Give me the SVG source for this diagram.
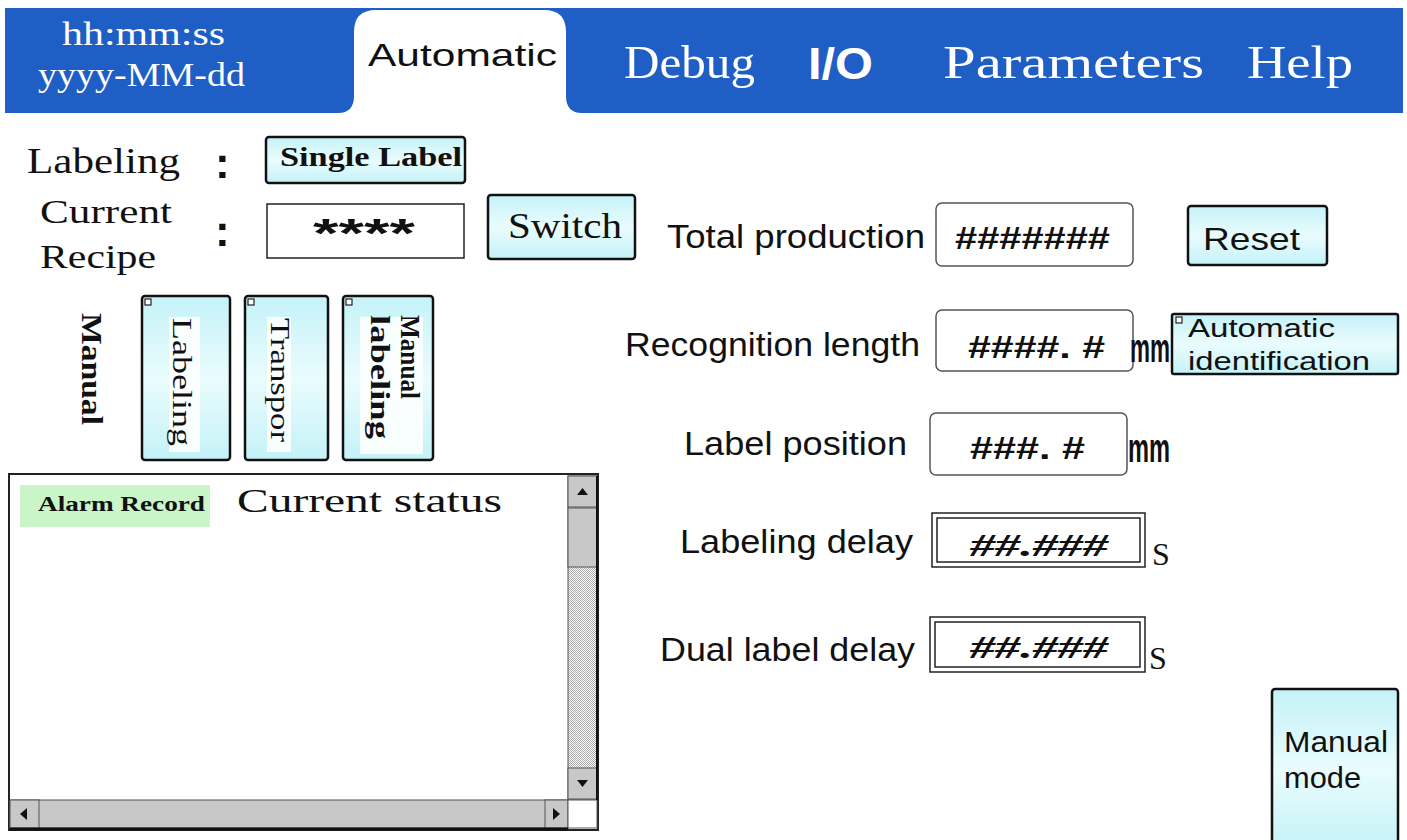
<svg xmlns="http://www.w3.org/2000/svg" width="1407" height="840" viewBox="0 0 1407 840">
<defs>
<linearGradient id="btn" x1="0" y1="0" x2="0" y2="1">
<stop offset="0" stop-color="#c4f2f8"/>
<stop offset="0.5" stop-color="#eafcfd"/>
<stop offset="1" stop-color="#c4f2f8"/>
</linearGradient>
<pattern id="dots" width="2" height="2" patternUnits="userSpaceOnUse">
<rect width="2" height="2" fill="#ffffff"/>
<rect width="1" height="1" fill="#a8a8a8"/>
<rect x="1" y="1" width="1" height="1" fill="#a8a8a8"/>
</pattern>
<style>
.mono{font-family:"Liberation Serif","DejaVu Serif",serif;}
.sans{font-family:"Liberation Sans",Arial,sans-serif;}
.serif{font-family:"Liberation Serif","Times New Roman",serif;}
.w{fill:#ffffff;}
.k{fill:#111111;}
.btn{fill:url(#btn);stroke:#111;stroke-width:2.5;}
.field{fill:#ffffff;stroke:#555;stroke-width:1.5;}
.mark{fill:#fff;stroke:#222;stroke-width:1.2;}
.sb{fill:#c8c8c8;stroke:#555;stroke-width:1;}
</style>
</defs>
<rect width="1407" height="840" fill="#ffffff"/>

<g id="topbar">
<rect x="5" y="8" width="1398" height="105" fill="#1f5ec5"/>
<path d="M338,113 Q354,113 354,96 L354,32 Q354,10 376,10 L544,10 Q566,10 566,32 L566,96 Q566,113 582,113 Z" fill="#ffffff"/>
<text class="mono w" x="62" y="45" font-size="34" textLength="163" lengthAdjust="spacingAndGlyphs">hh:mm:ss</text>
<text class="mono w" x="38" y="86" font-size="34" textLength="207" lengthAdjust="spacingAndGlyphs">yyyy-MM-dd</text>
<text class="sans k" x="368" y="66" font-size="32" textLength="189" lengthAdjust="spacingAndGlyphs">Automatic</text>
<text class="mono w" x="624" y="78" font-size="47" textLength="131" lengthAdjust="spacingAndGlyphs">Debug</text>
<text class="sans w" x="808" y="79" font-size="44" font-weight="bold" textLength="65" lengthAdjust="spacingAndGlyphs">I/O</text>
<text class="mono w" x="943" y="78" font-size="47" textLength="261" lengthAdjust="spacingAndGlyphs">Parameters</text>
<text class="mono w" x="1247" y="78" font-size="47" textLength="106" lengthAdjust="spacingAndGlyphs">Help</text>
</g>

<g id="labeling-row">
<text class="mono k" x="27" y="173" font-size="35" textLength="153" lengthAdjust="spacingAndGlyphs">Labeling</text>
<text class="sans k" x="215" y="178" font-size="44" font-weight="bold">:</text>
<rect class="btn" x="266" y="137" width="199" height="46" rx="3"/>
<text class="mono k" x="280" y="166" font-size="27" font-weight="bold" textLength="182" lengthAdjust="spacingAndGlyphs">Single Label</text>
</g>

<g id="recipe-row">
<text class="mono k" x="40" y="223" font-size="33" textLength="132" lengthAdjust="spacingAndGlyphs">Current</text>
<text class="mono k" x="40" y="268" font-size="33" textLength="116" lengthAdjust="spacingAndGlyphs">Recipe</text>
<text class="sans k" x="215" y="246" font-size="44" font-weight="bold">:</text>
<rect x="267" y="204" width="197" height="54" fill="#fff" stroke="#222" stroke-width="1.5"/>
<text class="sans k" x="313" y="247" font-size="40" font-weight="bold" textLength="102" lengthAdjust="spacingAndGlyphs">****</text>
<rect class="btn" x="488" y="195" width="147" height="64" rx="3"/>
<text class="mono k" x="508" y="238" font-size="35" textLength="114" lengthAdjust="spacingAndGlyphs">Switch</text>
</g>

<g id="manual-group">
<text class="mono k" transform="translate(92,313) rotate(90)" x="0" y="10" font-size="30" font-weight="bold" textLength="112" lengthAdjust="spacingAndGlyphs">Manual</text>
</g>
<g id="btn-labeling">
<rect class="btn" x="142" y="296" width="88" height="164" rx="3"/>
<rect x="169" y="317" width="31" height="135" fill="#ffffff" opacity="0.85"/>
<rect class="mark" x="145" y="299" width="6" height="6"/>
<text class="mono k" transform="translate(182,318) rotate(90)" x="0" y="9" font-size="27" textLength="128" lengthAdjust="spacingAndGlyphs">Labeling</text>
</g>
<g id="btn-transport">
<rect class="btn" x="245" y="296" width="83" height="164" rx="3"/>
<rect x="267" y="317" width="24" height="135" fill="#ffffff" opacity="0.85"/>
<rect class="mark" x="248" y="299" width="6" height="6"/>
<text class="mono k" transform="translate(280,318) rotate(90)" x="0" y="9" font-size="27" textLength="124" lengthAdjust="spacingAndGlyphs">Transpor</text>
</g>
<g id="btn-manual-labeling">
<rect class="btn" x="343" y="296" width="90" height="164" rx="3"/>
<rect x="360" y="317" width="63" height="137" fill="#ffffff" opacity="0.85"/>
<rect class="mark" x="346" y="299" width="6" height="6"/>
<text class="mono k" transform="translate(410,315) rotate(90)" x="0" y="9" font-size="27" font-weight="bold" textLength="84" lengthAdjust="spacingAndGlyphs">Manual</text>
<text class="mono k" transform="translate(380,315) rotate(90)" x="0" y="9" font-size="27" font-weight="bold" textLength="124" lengthAdjust="spacingAndGlyphs">labeling</text>
</g>

<g id="alarm-panel">
<rect x="9" y="474" width="589" height="356" fill="#ffffff" stroke="#222" stroke-width="2"/>
<rect x="20" y="485" width="190" height="42" fill="#c9f5c9"/>
<text class="mono k" x="38" y="511" font-size="21" font-weight="bold" textLength="167" lengthAdjust="spacingAndGlyphs">Alarm Record</text>
<text class="mono k" x="237" y="512" font-size="33" textLength="265" lengthAdjust="spacingAndGlyphs">Current status</text>
<rect x="568" y="476" width="29" height="324" fill="url(#dots)" stroke="#555" stroke-width="1"/>
<rect class="sb" x="568" y="476" width="29" height="31"/>
<path d="M577,495 L588,495 L582.5,488 Z" fill="#111"/>
<rect class="sb" x="568" y="508" width="29" height="59"/>
<rect class="sb" x="568" y="768" width="29" height="31"/>
<path d="M577,780 L588,780 L582.5,787 Z" fill="#111"/>
<rect class="sb" x="10" y="800" width="558" height="28"/>
<rect class="sb" x="10" y="800" width="29" height="28"/>
<path d="M20,814 L27,808 L27,820 Z" fill="#111"/>
<rect class="sb" x="545" y="800" width="23" height="28"/>
<path d="M560,814 L553,808 L553,820 Z" fill="#111"/>
<rect x="568" y="800" width="29" height="28" fill="#ffffff" stroke="#555" stroke-width="1"/>
<line x1="10" y1="829" x2="568" y2="829" stroke="#111" stroke-width="3"/>
<line x1="597" y1="476" x2="597" y2="800" stroke="#111" stroke-width="2"/>
</g>

<g id="total-production">
<text class="sans k" x="667" y="248" font-size="33" textLength="258" lengthAdjust="spacingAndGlyphs">Total production</text>
<rect class="field" x="936" y="203" width="197" height="63" rx="6"/>
<text class="sans k" x="955" y="249" font-size="32" font-weight="bold" textLength="155" lengthAdjust="spacingAndGlyphs">#######</text>
<rect class="btn" x="1188" y="206" width="139" height="59" rx="3"/>
<text class="sans k" x="1203" y="250" font-size="32" textLength="97" lengthAdjust="spacingAndGlyphs">Reset</text>
</g>

<g id="recognition-length">
<text class="sans k" x="625" y="356" font-size="33" textLength="295" lengthAdjust="spacingAndGlyphs">Recognition length</text>
<rect class="field" x="936" y="310" width="197" height="61" rx="6"/>
<text class="sans k" x="968" y="358" font-size="32" font-weight="bold" textLength="137" lengthAdjust="spacingAndGlyphs">####. #</text>
<text class="sans k" x="1130" y="362" font-size="40" font-weight="bold" textLength="40" lengthAdjust="spacingAndGlyphs">mm</text>
<rect class="btn" x="1172" y="314" width="226" height="60" rx="2"/>
<rect class="mark" x="1176" y="317" width="6" height="6"/>
<text class="sans k" font-size="25"><tspan x="1188" y="337" textLength="147" lengthAdjust="spacingAndGlyphs">Automatic</tspan><tspan x="1188" y="370" textLength="182" lengthAdjust="spacingAndGlyphs">identification</tspan></text>
</g>

<g id="label-position">
<text class="sans k" x="684" y="455" font-size="33" textLength="223" lengthAdjust="spacingAndGlyphs">Label position</text>
<rect class="field" x="930" y="413" width="197" height="62" rx="6"/>
<text class="sans k" x="970" y="459" font-size="32" font-weight="bold" textLength="115" lengthAdjust="spacingAndGlyphs">###. #</text>
<text class="sans k" x="1128" y="462" font-size="40" font-weight="bold" textLength="42" lengthAdjust="spacingAndGlyphs">mm</text>
</g>

<g id="labeling-delay">
<text class="sans k" x="680" y="553" font-size="33" textLength="233" lengthAdjust="spacingAndGlyphs">Labeling delay</text>
<rect x="932" y="513" width="213" height="54" fill="#fff" stroke="#222" stroke-width="1.5"/>
<rect x="937" y="518" width="203" height="44" fill="none" stroke="#222" stroke-width="1.5"/>
<text class="serif k" x="970" y="556" font-size="32" font-weight="bold" font-style="italic" textLength="138" lengthAdjust="spacingAndGlyphs">##.###</text>
<text class="serif k" x="1152" y="565" font-size="32">S</text>
</g>

<g id="dual-label-delay">
<text class="sans k" x="660" y="661" font-size="33" textLength="255" lengthAdjust="spacingAndGlyphs">Dual label delay</text>
<rect x="930" y="617" width="215" height="55" fill="#fff" stroke="#222" stroke-width="1.5"/>
<rect x="935" y="622" width="205" height="45" fill="none" stroke="#222" stroke-width="1.5"/>
<text class="serif k" x="970" y="658" font-size="32" font-weight="bold" font-style="italic" textLength="138" lengthAdjust="spacingAndGlyphs">##.###</text>
<text class="serif k" x="1149" y="669" font-size="32">S</text>
</g>

<g id="manual-mode">
<rect class="btn" x="1272" y="689" width="126" height="160" rx="3"/>
<text class="sans k" font-size="30"><tspan x="1284" y="752" textLength="104" lengthAdjust="spacingAndGlyphs">Manual</tspan><tspan x="1284" y="788" textLength="77" lengthAdjust="spacingAndGlyphs">mode</tspan></text>
</g>
</svg>
